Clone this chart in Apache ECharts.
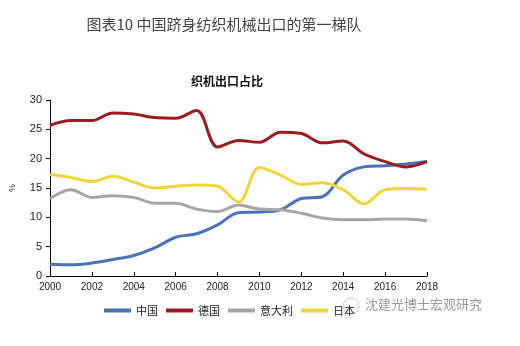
<!DOCTYPE html>
<html><head><meta charset="utf-8">
<script src="https://cdn.jsdelivr.net/npm/echarts@6/dist/echarts.min.js"></script>
<style>html,body{margin:0;padding:0;background:#fff}#c{width:520px;height:346px}</style>
</head><body><div id="c"></div>
<script>
const years = [2000,2001,2002,2003,2004,2005,2006,2007,2008,2009,2010,2011,2012,2013,2014,2015,2016,2017,2018];
const seriesNames = ['中国','德国','意大利','日本'];
const china   = [2.0,1.9,2.2,2.8,3.5,4.8,6.6,7.2,8.7,10.8,10.9,11.3,13.2,13.5,17.2,18.6,18.8,19.1,19.5];
const germany = [25.7,26.5,26.5,27.8,27.6,27.0,26.9,28.2,22.0,23.1,22.8,24.5,24.3,22.7,23.0,20.8,19.5,18.6,19.5];
const italy   = [13.2,14.7,13.4,13.7,13.4,12.4,12.4,11.4,11.0,12.1,11.4,11.3,10.7,9.9,9.6,9.6,9.7,9.7,9.4];
const japan   = [17.3,16.8,16.1,17.0,16.0,15.0,15.3,15.5,15.3,12.6,18.5,17.2,15.6,15.9,14.7,12.3,14.7,14.9,14.8];
const yTicks = {min:0,max:30,interval:5};
const xTicks = {min:2000,max:2018,interval:2};
const colors = ['#4a72b8','#9b1c20','#a6a6a6','#efd53c'];

const chart = echarts.init(document.getElementById('c'));
const mk = (name, arr, i) => ({
  name, type:'line', smooth:0.35, symbol:'none',
  data: years.map((y,k)=>[y,arr[k]]),
  lineStyle:{width:3,color:colors[i]}, itemStyle:{color:colors[i]}
});
chart.setOption({
  animation:false,
  title:[
    {text:'图表10 中国跻身纺织机械出口的第一梯队', left:219, top:12, textAlign:'center',
     textStyle:{fontFamily:'Noto Sans CJK SC',fontSize:15,fontWeight:'normal',color:'#444'}},
    {text:'织机出口占比', left:222, top:70, textAlign:'center',
     textStyle:{fontFamily:'Noto Sans CJK SC',fontSize:12,fontWeight:'bold',color:'#111'}}
  ],
  grid:{left:49,right:93,top:100,bottom:70},
  legend:{left:99,top:300,icon:'rect',itemWidth:27,itemHeight:4,itemGap:8,
    data:seriesNames,
    textStyle:{fontFamily:'Noto Sans CJK SC',fontSize:11,color:'#222'}},
  xAxis:{type:'value',min:xTicks.min,max:xTicks.max,interval:xTicks.interval,
    axisLine:{lineStyle:{color:'#000'}},
    axisTick:{inside:true,length:4,lineStyle:{color:'#000'}},
    splitLine:{show:false},
    axisLabel:{color:'#222',fontFamily:'Arial',fontSize:10,margin:6,formatter:v=>String(v)}},
  yAxis:{type:'value',min:yTicks.min,max:yTicks.max,interval:yTicks.interval,
    name:'%',nameLocation:'middle',nameGap:33,nameRotate:90,
    nameTextStyle:{fontSize:9,color:'#333'},
    axisLine:{show:true,lineStyle:{color:'#000'}},
    axisTick:{show:true,length:4,lineStyle:{color:'#000'}},
    splitLine:{show:false},
    axisLabel:{color:'#222',fontFamily:'Arial',fontSize:11,margin:8}},
  graphic:[
    {type:'circle',shape:{cx:351,cy:306,r:8},style:{fill:'rgba(255,255,255,0.85)',stroke:'#c8c8c8',lineWidth:1}},
    {type:'text',left:365,top:298,style:{text:'沈建光博士宏观研究',fontFamily:'Noto Sans CJK SC',fontSize:13,fill:'#9a9a9a'}}
  ],
  series:[mk('中国',china,0),mk('德国',germany,1),mk('意大利',italy,2),mk('日本',japan,3)]
});
</script></body></html>
